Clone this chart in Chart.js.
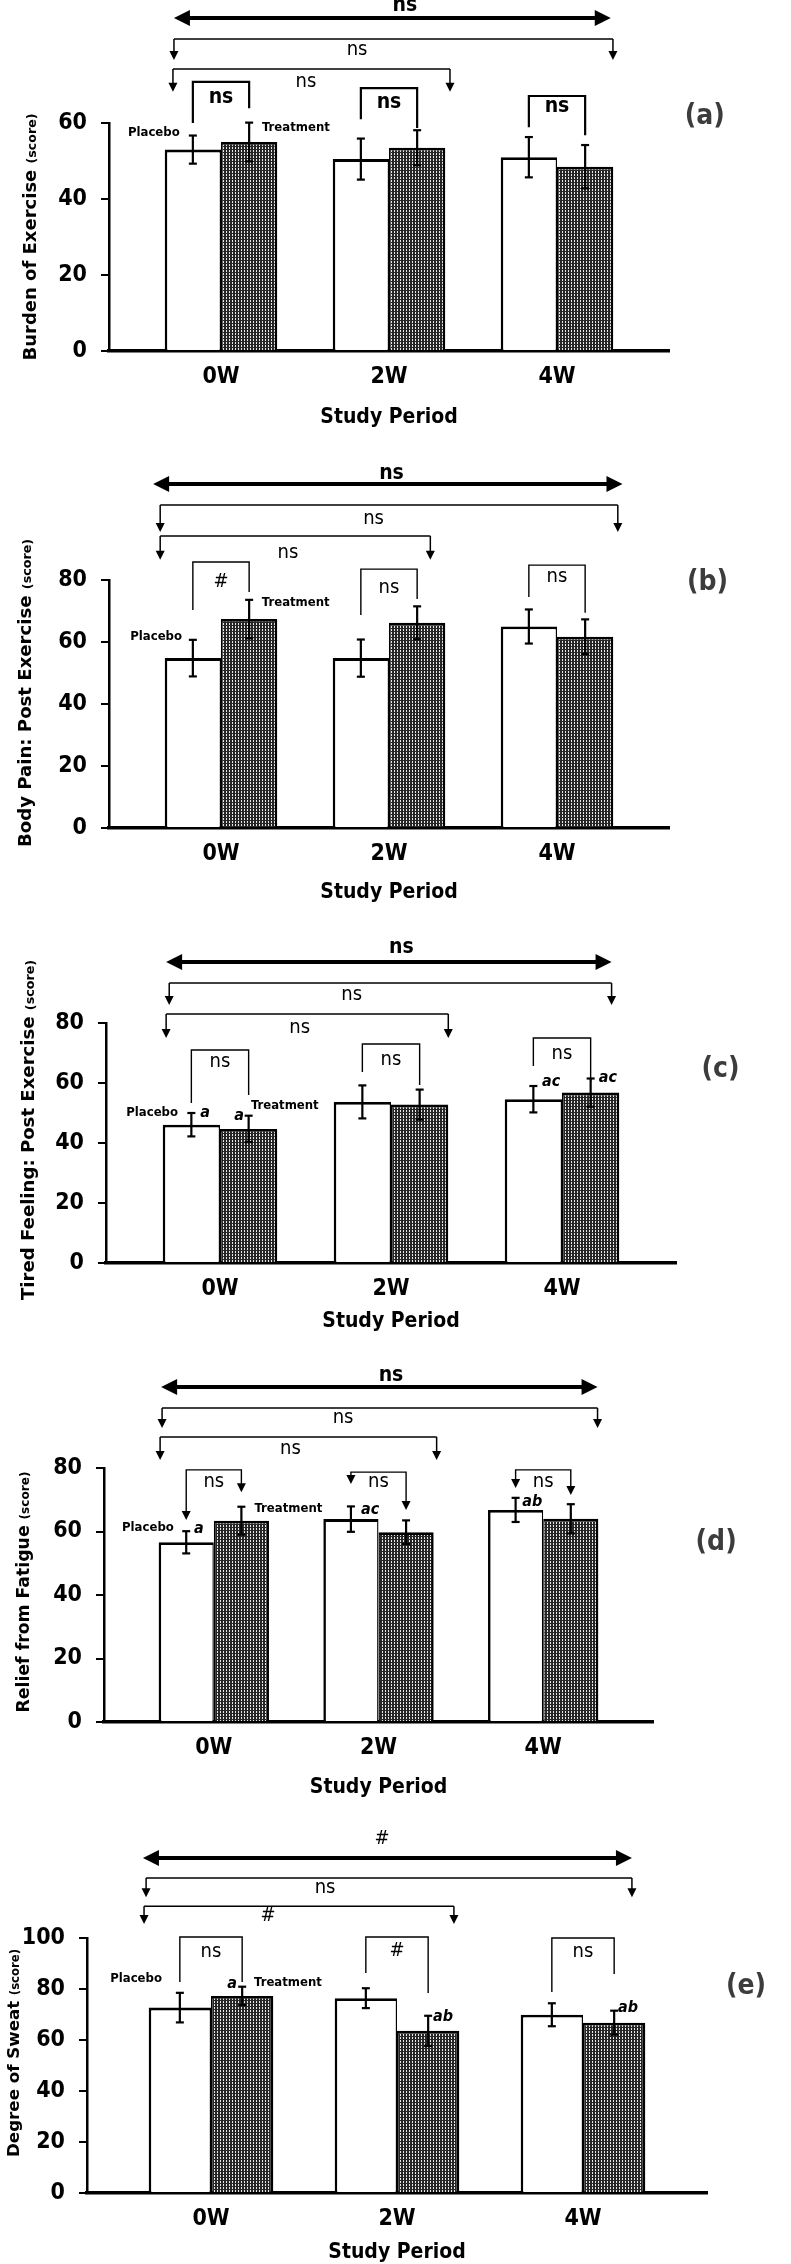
<!DOCTYPE html>
<html>
<head>
<meta charset="utf-8">
<script src="https://cdn.jsdelivr.net/npm/chart.js@4.4.1/dist/chart.umd.min.js"></script>
<style>
  html, body { margin: 0; padding: 0; background: #fff; }
  #fig { position: relative; width: 791px; height: 2264px; overflow: hidden; background: #fff; }
  .panel { position: absolute; left: 0; }
</style>
</head>
<body>
<div id="fig"></div>
<script>
const periods = ['0W', '2W', '4W'];

// (a) Burden of Exercise
const burdenPlacebo = [53, 50.5, 51];
const burdenPlaceboErr = [3.7, 5.4, 5.3];
const burdenTreat = [55, 53.5, 48.5];
const burdenTreatErr = [5.1, 4.6, 5.7];
const burdenTicks = [0, 20, 40, 60];

// (b) Body Pain: Post Exercise
const painPlacebo = [54.8, 54.8, 65];
const painPlaceboErr = [5.9, 6, 5.5];
const painTreat = [67.4, 66.2, 61.7];
const painTreatErr = [6.2, 5.3, 5.6];
const painTicks = [0, 20, 40, 60, 80];

// (c) Tired Feeling: Post Exercise
const tiredPlacebo = [46.1, 53.7, 54.6];
const tiredPlaceboErr = [3.9, 5.5, 4.4];
const tiredTreat = [44.7, 52.8, 56.8];
const tiredTreatErr = [4.4, 5, 4.7];
const tiredTicks = [0, 20, 40, 60, 80];

// (d) Relief from Fatigue
const reliefPlacebo = [56.6, 63.9, 66.8];
const reliefPlaceboErr = [3.5, 4, 3.8];
const reliefTreat = [63.4, 59.8, 64];
const reliefTreatErr = [4.4, 3.7, 4.6];
const reliefTicks = [0, 20, 40, 60, 80];

// (e) Degree of Sweat
const sweatPlacebo = [72.7, 76.4, 69.9];
const sweatPlaceboErr = [5.8, 3.9, 4.5];
const sweatTreat = [77.3, 63.6, 66.8];
const sweatTreatErr = [3.6, 5.9, 4.7];
const sweatTicks = [0, 20, 40, 60, 80, 100];

const NARROW = "'Liberation Sans Narrow', 'DejaVu Sans Condensed', Roboto, sans-serif";
const WIDE = "'DejaVu Sans', Verdana, sans-serif";

/* annotations: x in period units, y in score units */
const annA = {
  ytitle: { text: 'Burden of Exercise', x: 30, y: 237, span: 247 },
  top: { text: 'ns', x: 1.095, y: 91, bold: true },
  thick: { x1: -0.28, x2: 2.32, y: 87.6 },
  brackets: [
    { x1: -0.28, x2: 2.333, y: 82.1, leg: 76.6, text: 'ns', tx: 0.81, ty: 79.2 },
    { x1: -0.286, x2: 1.363, y: 74.2, leg: 68.2, text: 'ns', tx: 0.506, ty: 70.8 }
  ],
  pairs: { top: [70.8, 69.2, 67.1], left: [60, 61, 58.9], right: [63.9, 58.7, 56.8],
           ty: [66.8, 65.3, 64.2], text: ['ns', 'ns', 'ns'], bold: true, arrows: false, lw: 2.2 },
  tag: { text: '(a)', x: 2.88, y: 61.6 },
  names: [{ text: 'Placebo', x: -0.4, y: 57.4 }, { text: 'Treatment', x: 0.446, y: 58.9 }],
  letters: []
};

const annB = {
  ytitle: { text: 'Body Pain: Post Exercise', x: 25, y: 253, span: 308 },
  top: { text: 'ns', x: 1.015, y: 114.5, bold: true },
  thick: { x1: -0.404, x2: 2.39, y: 111 },
  brackets: [
    { x1: -0.362, x2: 2.362, y: 104.2, leg: 95.5, text: 'ns', tx: 0.908, ty: 99.7 },
    { x1: -0.362, x2: 1.246, y: 94.2, leg: 86.5, text: 'ns', tx: 0.398, ty: 88.7 }
  ],
  pairs: { top: [85.8, 83.5, 84.8], left: [70.3, 68.7, 74.5], right: [76.1, 73.9, 69.4],
           ty: [79.4, 77.4, 81], text: ['#', 'ns', 'ns'], bold: false, arrows: false, lw: 1.4 },
  tag: { text: '(b)', x: 2.896, y: 79 },
  names: [{ text: 'Placebo', x: -0.386, y: 61.6 }, { text: 'Treatment', x: 0.445, y: 72.6 }],
  letters: []
};

const annC = {
  ytitle: { text: 'Tired Feeling: Post Exercise', x: 28, y: 230, span: 340 },
  top: { text: 'ns', x: 1.061, y: 105, bold: true },
  thick: { x1: -0.315, x2: 2.29, y: 100.3 },
  brackets: [
    { x1: -0.297, x2: 2.29, y: 93.3, leg: 86, text: 'ns', tx: 0.77, ty: 89.3 },
    { x1: -0.315, x2: 1.335, y: 83, leg: 75, text: 'ns', tx: 0.466, ty: 78.3 }
  ],
  pairs: { top: [71, 73, 75], left: [53.3, 63.7, 65.7], right: [56, 59.3, 60.3],
           ty: [67, 67.7, 69.7], text: ['ns', 'ns', 'ns'], bold: false, arrows: false, lw: 1.4 },
  tag: { text: '(c)', x: 2.927, y: 64.3 },
  names: [{ text: 'Placebo', x: -0.397, y: 50 }, { text: 'Treatment', x: 0.379, y: 52.3 }],
  letters: [{ text: 'a', x: -0.087, y: 50 }, { text: 'a', x: 0.111, y: 49 },
            { text: 'ac', x: 1.936, y: 60.3 }, { text: 'ac', x: 2.268, y: 61.7 }]
};

const annD = {
  ytitle: { text: 'Relief from Fatigue', x: 23, y: 247, span: 241 },
  top: { text: 'ns', x: 1.076, y: 109, bold: true },
  thick: { x1: -0.32, x2: 2.33, y: 105.5 },
  brackets: [
    { x1: -0.314, x2: 2.33, y: 98.9, leg: 92.6, text: 'ns', tx: 0.785, ty: 95.7 },
    { x1: -0.326, x2: 1.353, y: 89.8, leg: 82.5, text: 'ns', tx: 0.465, ty: 86 }
  ],
  pairs: { top: [79.4, 78.7, 79.4], left: [63.6, 75, 73.7], right: [72.4, 66.8, 71.5],
           ty: [75.6, 75.6, 75.6], text: ['ns', 'ns', 'ns'], bold: false, arrows: true, lw: 1.4 },
  tag: { text: '(d)', x: 3.05, y: 56.4 },
  names: [{ text: 'Placebo', x: -0.4, y: 61.1 }, { text: 'Treatment', x: 0.453, y: 67.1 }],
  letters: [{ text: 'a', x: -0.09, y: 60.8 }, { text: 'ac', x: 0.949, y: 66.8 }, { text: 'ab', x: 1.934, y: 69.3 }]
};

const annE = {
  ytitle: { text: 'Degree of Sweat', x: 13, y: 253, span: 208 },
  top: { text: '#', x: 0.919, y: 138.8, bold: false },
  thick: { x1: -0.366, x2: 2.263, y: 131.4 },
  brackets: [
    { x1: -0.349, x2: 2.263, y: 123.5, leg: 116, text: 'ns', tx: 0.613, ty: 119.6 },
    { x1: -0.36, x2: 1.306, y: 112.5, leg: 105.5, text: '#', tx: 0.306, ty: 108.6 }
  ],
  pairs: { top: [100.4, 100.4, 100], left: [82.7, 86.3, 78.8], right: [82.7, 78.4, 85.9],
           ty: [94.5, 94.9, 94.5], text: ['ns', '#', 'ns'], bold: false, arrows: false, lw: 1.4 },
  tag: { text: '(e)', x: 2.876, y: 80.8 },
  names: [{ text: 'Placebo', x: -0.403, y: 83.9 }, { text: 'Treatment', x: 0.414, y: 82.4 }],
  letters: [{ text: 'a', x: 0.113, y: 82 }, { text: 'ab', x: 1.247, y: 69 }, { text: 'ab', x: 2.242, y: 72.5 }]
};

function head(ctx, x, y, dir, len, half) {
  ctx.beginPath();
  if (dir === 'left') { ctx.moveTo(x, y); ctx.lineTo(x + len, y - half); ctx.lineTo(x + len, y + half); }
  else if (dir === 'right') { ctx.moveTo(x, y); ctx.lineTo(x - len, y - half); ctx.lineTo(x - len, y + half); }
  else { ctx.moveTo(x, y); ctx.lineTo(x - half, y - len); ctx.lineTo(x + half, y - len); }
  ctx.closePath();
  ctx.fill();
}

function seg(ctx, x1, y1, x2, y2) {
  ctx.beginPath();
  ctx.moveTo(x1, y1);
  ctx.lineTo(x2, y2);
  ctx.stroke();
}

function label(ctx, s, x, y, font, color) {
  ctx.font = font;
  ctx.fillStyle = color || '#000';
  ctx.textAlign = 'center';
  ctx.textBaseline = 'middle';
  ctx.fillText(s, x, y);
}

const annotate = {
  id: 'annotate',
  afterDatasetsDraw(chart) {
    const ctx = chart.ctx;
    const ys = chart.scales.y;
    ctx.save();
    ctx.strokeStyle = '#000';
    ctx.lineWidth = 2.2;
    chart.data.datasets.forEach((ds, di) => {
      chart.getDatasetMeta(di).data.forEach((bar, i) => {
        const v = ds.data[i].y, e = ds.err[i];
        const yt = ys.getPixelForValue(v + e), yb = ys.getPixelForValue(v - e);
        seg(ctx, bar.x, yt, bar.x, yb);
        seg(ctx, bar.x - 4, yt, bar.x + 4, yt);
        seg(ctx, bar.x - 4, yb, bar.x + 4, yb);
      });
    });
    ctx.restore();
  },
  afterDraw(chart) {
    const a = chart.options.plugins.annotate;
    const ctx = chart.ctx;
    const X = v => chart.scales.x.getPixelForValue(v);
    const Y = v => chart.scales.y.getPixelForValue(v);
    ctx.save();
    ctx.strokeStyle = '#000';
    ctx.fillStyle = '#000';

    // thick double arrow across all periods
    const t = a.thick;
    ctx.lineWidth = 4;
    seg(ctx, X(t.x1) + 10, Y(t.y), X(t.x2) - 10, Y(t.y));
    head(ctx, X(t.x1), Y(t.y), 'left', 16, 8);
    head(ctx, X(t.x2), Y(t.y), 'right', 16, 8);
    label(ctx, a.top.text, X(a.top.x), Y(a.top.y), (a.top.bold ? 'bold 21px ' : '20px ') + NARROW);

    // long brackets between periods
    a.brackets.forEach(b => {
      ctx.lineWidth = 1.5;
      ctx.fillStyle = '#000';
      seg(ctx, X(b.x1), Y(b.y), X(b.x2), Y(b.y));
      seg(ctx, X(b.x1), Y(b.y), X(b.x1), Y(b.leg) - 6);
      seg(ctx, X(b.x2), Y(b.y), X(b.x2), Y(b.leg) - 6);
      head(ctx, X(b.x1), Y(b.leg), 'down', 9, 4.5);
      head(ctx, X(b.x2), Y(b.leg), 'down', 9, 4.5);
      label(ctx, b.text, X(b.tx), Y(b.ty), '20px ' + NARROW);
    });

    // placebo vs treatment brackets in each period
    const p = a.pairs;
    const m0 = chart.getDatasetMeta(0).data, m1 = chart.getDatasetMeta(1).data;
    periods.forEach((_, i) => {
      const xl = m0[i].x, xr = m1[i].x;
      ctx.lineWidth = p.lw;
      ctx.fillStyle = '#000';
      const yl = Y(p.left[i]) - (p.arrows ? 6 : 0);
      const yr = Y(p.right[i]) - (p.arrows ? 6 : 0);
      ctx.beginPath();
      ctx.moveTo(xl, yl);
      ctx.lineTo(xl, Y(p.top[i]));
      ctx.lineTo(xr, Y(p.top[i]));
      ctx.lineTo(xr, yr);
      ctx.stroke();
      if (p.arrows) {
        head(ctx, xl, Y(p.left[i]), 'down', 9, 4.5);
        head(ctx, xr, Y(p.right[i]), 'down', 9, 4.5);
      }
      label(ctx, p.text[i], (xl + xr) / 2, Y(p.ty[i]), (p.bold ? 'bold 21px ' : '20px ') + NARROW);
    });

    a.names.forEach(n => label(ctx, n.text, X(n.x), Y(n.y), 'bold 13px ' + NARROW));
    a.letters.forEach(n => label(ctx, n.text, X(n.x), Y(n.y), 'italic bold 16px ' + NARROW));
    label(ctx, a.tag.text, X(a.tag.x), Y(a.tag.y), 'bold 28px ' + NARROW, '#3c3c3c');

    // y-axis title with a smaller "(score)"
    const yt = a.ytitle;
    ctx.font = 'bold 20px ' + WIDE;
    const w20 = ctx.measureText(yt.text + ' ').width;
    ctx.font = 'bold 14px ' + WIDE;
    const s20 = ctx.measureText('(score)').width;
    const k = yt.span / (w20 + s20);
    const big = 'bold ' + (20 * k).toFixed(1) + 'px ' + WIDE;
    const small = 'bold ' + (14 * k).toFixed(1) + 'px ' + WIDE;
    ctx.translate(yt.x, yt.y);
    ctx.rotate(-Math.PI / 2);
    ctx.textAlign = 'left';
    ctx.textBaseline = 'alphabetic';
    ctx.fillStyle = '#000';
    const x0 = -yt.span / 2;
    ctx.font = big;
    ctx.fillText(yt.text + ' ', x0, 7 * k);
    ctx.font = small;
    ctx.fillText('(score)', x0 + w20 * k, 7 * k);
    ctx.restore();
  }
};

function dotPattern(ctx) {
  const tile = document.createElement('canvas');
  tile.width = 3;
  tile.height = 3;
  const c = tile.getContext('2d');
  c.fillStyle = '#262626';
  c.fillRect(0, 0, 3, 3);
  c.fillStyle = '#e8e8e8';
  c.fillRect(1, 0, 1, 2);
  return ctx.createPattern(tile, 'repeat');
}

const fig = document.getElementById('fig');

function makePanel(cfg) {
  const cv = document.createElement('canvas');
  cv.width = 791;
  cv.height = cfg.height;
  cv.className = 'panel';
  cv.style.top = cfg.top + 'px';
  fig.appendChild(cv);
  const ctx = cv.getContext('2d');
  const A = cfg.area;
  const lh = 21 * 1.2;
  let sb = cfg.studyY + lh / 2 + 2, tpb = 2;
  if (sb > cfg.height) { sb = cfg.height; tpb = cfg.height - cfg.studyY - lh / 2; }

  new Chart(ctx, {
    type: 'bar',
    data: {
      datasets: [
        {
          label: 'Placebo',
          data: cfg.placebo.map((v, i) => ({ x: i, y: v })),
          err: cfg.placeboErr,
          backgroundColor: '#ffffff',
          borderColor: '#000',
          borderWidth: { top: 2.8, left: 2.6, right: 1.4, bottom: 0 },
          borderSkipped: false
        },
        {
          label: 'Treatment',
          data: cfg.treat.map((v, i) => ({ x: i, y: v })),
          err: cfg.treatErr,
          backgroundColor: dotPattern(ctx),
          borderColor: '#000',
          borderWidth: { top: 2.8, left: 1.4, right: 2.6, bottom: 0 },
          borderSkipped: false
        }
      ]
    },
    options: {
      responsive: false,
      animation: false,
      events: [],
      layout: { padding: { left: 0, top: A.top, right: 791 - A.right, bottom: cfg.height - sb } },
      datasets: { bar: { categoryPercentage: 0.67, barPercentage: 1 } },
      plugins: { legend: { display: false }, tooltip: { enabled: false }, annotate: cfg.ann },
      scales: {
        x: {
          type: 'linear',
          offset: false,
          bounds: 'data',
          min: -2 / 3,
          max: 8 / 3,
          afterBuildTicks: s => { s.ticks = periods.map((_, i) => ({ value: i })); },
          afterFit: s => { s.height = sb - A.bottom; },
          ticks: {
            callback: v => periods[Math.round(v)],
            font: { family: NARROW, size: 23, weight: 'bold' },
            color: '#000',
            padding: 12,
            maxRotation: 0,
            autoSkip: false
          },
          grid: { display: false, drawTicks: false, offset: false },
          border: { display: true, color: '#000', width: 3.5 },
          title: {
            display: true,
            text: 'Study Period',
            font: { family: NARROW, size: 21, weight: 'bold' },
            color: '#000',
            padding: { top: 0, bottom: tpb }
          }
        },
        y: {
          min: 0,
          max: cfg.yTicks[cfg.yTicks.length - 1],
          afterBuildTicks: s => { s.ticks = cfg.yTicks.map(v => ({ value: v })); },
          afterFit: s => { s.width = A.left; },
          ticks: {
            font: { family: NARROW, size: 23, weight: 'bold' },
            color: '#000',
            padding: 14
          },
          grid: { drawOnChartArea: false, drawTicks: true, tickLength: 8, color: '#000', lineWidth: 2 },
          border: { display: true, color: '#000', width: 2.5 }
        }
      }
    },
    plugins: [annotate]
  });
}

makePanel({ top: 0, height: 440, area: { left: 109, right: 669, top: 123, bottom: 351 }, studyY: 418,
  placebo: burdenPlacebo, placeboErr: burdenPlaceboErr, treat: burdenTreat, treatErr: burdenTreatErr,
  yTicks: burdenTicks, ann: annA });
makePanel({ top: 440, height: 470, area: { left: 109, right: 669, top: 140, bottom: 388 }, studyY: 453,
  placebo: painPlacebo, placeboErr: painPlaceboErr, treat: painTreat, treatErr: painTreatErr,
  yTicks: painTicks, ann: annB });
makePanel({ top: 900, height: 445, area: { left: 106, right: 676, top: 123, bottom: 363 }, studyY: 422,
  placebo: tiredPlacebo, placeboErr: tiredPlaceboErr, treat: tiredTreat, treatErr: tiredTreatErr,
  yTicks: tiredTicks, ann: annC });
makePanel({ top: 1345, height: 460, area: { left: 104, right: 653, top: 123, bottom: 377 }, studyY: 443,
  placebo: reliefPlacebo, placeboErr: reliefPlaceboErr, treat: reliefTreat, treatErr: reliefTreatErr,
  yTicks: reliefTicks, ann: annD });
makePanel({ top: 1800, height: 464, area: { left: 87, right: 707, top: 138, bottom: 393 }, studyY: 453,
  placebo: sweatPlacebo, placeboErr: sweatPlaceboErr, treat: sweatTreat, treatErr: sweatTreatErr,
  yTicks: sweatTicks, ann: annE });
</script>
</body>
</html>
